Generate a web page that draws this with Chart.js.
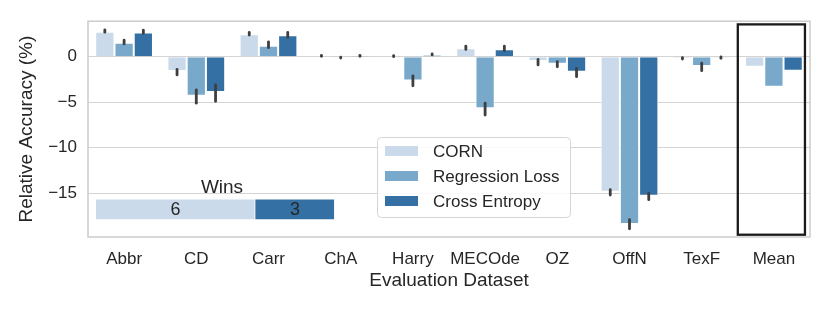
<!DOCTYPE html>
<html>
<head>
<meta charset="utf-8">
<script src="https://cdn.jsdelivr.net/npm/chart.js@4.4.1/dist/chart.umd.min.js"></script>
<style>
  body { margin: 0; background: #fff; }
  #wrap { position: relative; width: 830px; height: 312px; }
  #main { position: absolute; left: 0; top: 0; }
  #wins { position: absolute; left: 86px; top: 170px; }
</style>
</head>
<body>
<div id="wrap">
  <canvas id="main" width="830" height="312"></canvas>
  <canvas id="wins" width="272" height="50"></canvas>
</div>
<script>
// categorias e valores
const categories = ['Abbr', 'CD', 'Carr', 'ChA', 'Harry', 'MECOde', 'OZ', 'OffN', 'TexF', 'Mean']
const seriesNames = ['CORN', 'Regression Loss', 'Cross Entropy']
const seriesColors = ['#cadaea', '#78a9cb', '#3470a4']

const cornValues = [2.74, -1.57, 2.46, 0.05, 0.05, 0.92, -0.47, -14.84, -0.15, -1.09]
const regressionValues = [1.54, -4.28, 1.2, -0.1, -2.6, -5.66, -0.77, -18.38, -1.02, -3.29]
const crossEntropyValues = [2.67, -3.87, 2.35, 0.1, 0.18, 0.81, -1.64, -15.27, -0.1, -1.53]

// barras de erro [baixo, alto], Mean sem erro
const cornErr = [[2.7, 2.95], [-1.4, -2.0], [2.38, 2.67], [0.05, 0.15], [0.0, 0.12], [0.8, 1.15], [-0.3, -0.9], [-14.6, -15.2], [-0.1, -0.25], null]
const regressionErr = [[1.4, 1.83], [-3.65, -5.1], [0.99, 1.64], [-0.05, -0.15], [-2.1, -3.2], [-5.1, -6.4], [-0.55, -1.1], [-17.9, -18.9], [-0.72, -1.53], null]
const crossEntropyErr = [[2.57, 2.93], [-3.1, -4.9], [2.13, 2.67], [0.05, 0.15], [0.2, 0.32], [0.66, 1.17], [-1.27, -2.19], [-15.0, -15.7], [-0.03, -0.18], null]

const yTicks = [0, -5, -10, -15]

// contagem de vitorias
const winNames = ['CORN', 'Cross Entropy']
const winCounts = [6, 3]
const winColors = ['#cadaea', '#3470a4']

const textColor = '#262626'
const gridColor = '#d4d4d4'
const fontFamily = '"Liberation Sans", Arial, sans-serif'

Chart.defaults.font.family = fontFamily
Chart.defaults.color = textColor

const allValues = [cornValues, regressionValues, crossEntropyValues]
const allErr = [cornErr, regressionErr, crossEntropyErr]

//moldura do grafico
const spinesPlugin = {
    id: 'spines',
    beforeDatasetsDraw(chart){
        const {ctx, chartArea} = chart
        ctx.save()
        ctx.strokeStyle = '#cccccc'
        ctx.lineWidth = 1.5
        ctx.strokeRect(chartArea.left, chartArea.top, chartArea.right - chartArea.left, chartArea.bottom - chartArea.top)
        ctx.restore()
    }
}

//barras de erro
const errorBarsPlugin = {
    id: 'errorBars',
    afterDatasetsDraw(chart){
        const {ctx} = chart
        const yScale = chart.scales.y
        ctx.save()
        ctx.strokeStyle = '#3f3f3f'
        ctx.lineWidth = 2.8
        ctx.lineCap = 'round'
        allErr.forEach(function(errs, i){
            const meta = chart.getDatasetMeta(i)
            errs.forEach(function(err, j){
                if(!err) return
                const x = meta.data[j].x
                ctx.beginPath()
                ctx.moveTo(x, yScale.getPixelForValue(err[0]))
                ctx.lineTo(x, yScale.getPixelForValue(err[1]))
                ctx.stroke()
            })
        })
        ctx.restore()
    }
}

//caixa em volta da media
const meanBoxPlugin = {
    id: 'meanBox',
    afterDatasetsDraw(chart){
        const {ctx, scales} = chart
        const idx = categories.indexOf('Mean')
        const x0 = scales.x.getPixelForValue(idx - 0.5)
        const x1 = scales.x.getPixelForValue(idx + 0.43)
        const y0 = scales.y.getPixelForValue(3.55)
        const y1 = scales.y.getPixelForValue(-19.55)
        ctx.save()
        ctx.strokeStyle = '#1a1a1a'
        ctx.lineWidth = 2.3
        ctx.strokeRect(x0, y0, x1 - x0, y1 - y0)
        ctx.restore()
    }
}

//legenda dentro da area
const insideLegendPlugin = {
    id: 'insideLegend',
    afterDraw(chart){
        const {ctx} = chart
        const bx = 377, by = 137, bw = 193, bh = 80
        ctx.save()
        ctx.beginPath()
        ctx.roundRect(bx + 0.5, by + 0.5, bw, bh, 4)
        ctx.fillStyle = 'rgba(255,255,255,0.85)'
        ctx.fill()
        ctx.strokeStyle = '#d6d6d6'
        ctx.lineWidth = 1
        ctx.stroke()
        ctx.font = '17px ' + fontFamily
        ctx.textBaseline = 'middle'
        chart.data.datasets.forEach(function(ds, i){
            const cy = 151 + i * 25
            ctx.fillStyle = ds.backgroundColor
            ctx.fillRect(385, cy - 5, 33, 10)
            ctx.fillStyle = textColor
            ctx.fillText(ds.label, 433, cy + 1)
        })
        ctx.restore()
    }
}

const mainChart = new Chart(document.querySelector('canvas#main'), {
    type: 'bar',
    data: {
        labels: categories,
        datasets: allValues.map(function(vals, i){
            return {
                label: seriesNames[i],
                data: vals,
                backgroundColor: seriesColors[i],
                borderColor: '#ffffff',
                borderWidth: 1,
                categoryPercentage: 0.8,
                barPercentage: 1.0
            }
        })
    },
    options: {
        responsive: false,
        animation: false,
        layout: { padding: { left: 0, right: 20, top: 21, bottom: 0 } },
        plugins: {
            legend: { display: false },
            tooltip: { enabled: false }
        },
        scales: {
            x: {
                grid: { display: false },
                border: { display: false },
                ticks: { font: { size: 17 }, padding: 4, maxRotation: 0, autoSkip: false },
                title: { display: true, text: 'Evaluation Dataset', font: { size: 19 }, padding: { top: 0, bottom: 20 } },
                afterFit(scale){ scale.height = 75 }
            },
            y: {
                min: -19.8,
                max: 3.9,
                grid: { color: gridColor, lineWidth: 1, drawTicks: false },
                border: { display: false },
                ticks: {
                    font: { size: 17 },
                    padding: 11,
                    callback: function(v){ return v < 0 ? '\u2212' + Math.abs(v) : String(v) }
                },
                afterBuildTicks(scale){
                    scale.ticks = yTicks.map(function(v){ return { value: v } })
                },
                title: { display: true, text: 'Relative Accuracy (%)', font: { size: 19 }, padding: { top: 15, bottom: 0 } },
                afterFit(scale){ scale.width = 88 }
            }
        }
    },
    plugins: [spinesPlugin, errorBarsPlugin, meanBoxPlugin, insideLegendPlugin]
})

//numeros dentro da barra de vitorias
const winLabelsPlugin = {
    id: 'winLabels',
    afterDatasetsDraw(chart){
        const {ctx} = chart
        ctx.save()
        ctx.font = '18px ' + fontFamily
        ctx.fillStyle = textColor
        ctx.textAlign = 'center'
        ctx.textBaseline = 'middle'
        chart.data.datasets.forEach(function(ds, i){
            const bar = chart.getDatasetMeta(i).data[0]
            const cx = (bar.x + bar.base) / 2
            ctx.fillText(String(ds.data[0]), cx, bar.y + 1)
        })
        ctx.restore()
    }
}

const winsChart = new Chart(document.querySelector('canvas#wins'), {
    type: 'bar',
    data: {
        labels: ['Wins'],
        datasets: winCounts.map(function(c, i){
            return {
                label: winNames[i],
                data: [c],
                backgroundColor: winColors[i],
                borderColor: '#ffffff',
                borderWidth: 1,
                categoryPercentage: 1,
                barPercentage: 1
            }
        })
    },
    options: {
        indexAxis: 'y',
        responsive: false,
        animation: false,
        layout: { padding: { left: 10, right: 10, top: 0, bottom: 0 } },
        plugins: {
            legend: { display: false },
            tooltip: { enabled: false },
            title: { display: true, text: 'Wins', font: { size: 19, weight: 'normal' }, color: textColor, padding: { top: 6, bottom: 0 } }
        },
        scales: {
            x: { stacked: true, min: 0, max: 9.5, display: false },
            y: { stacked: true, display: false }
        }
    },
    plugins: [winLabelsPlugin]
})
</script>
</body>
</html>
